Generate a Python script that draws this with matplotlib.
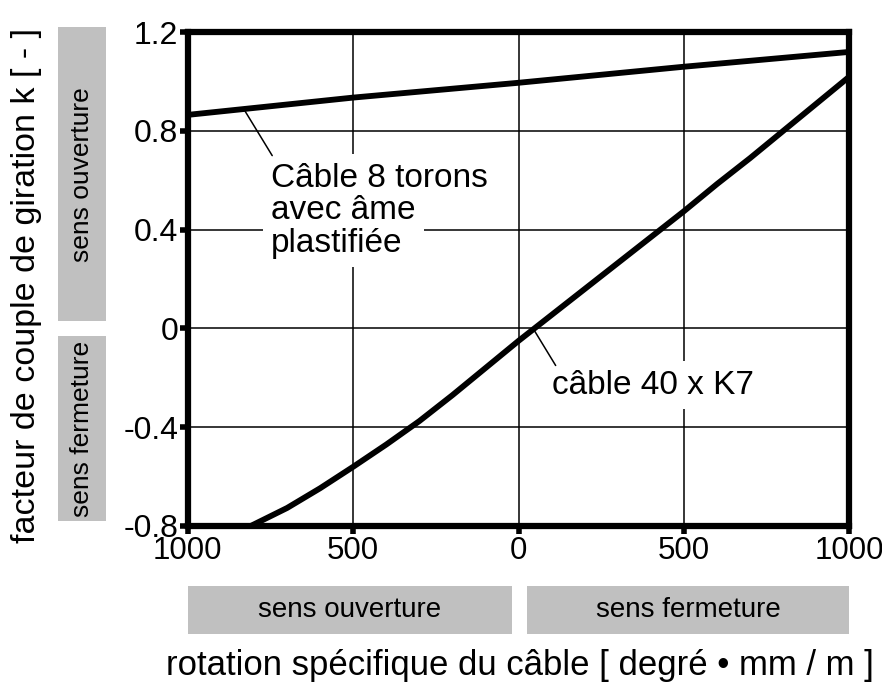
import numpy as np
import matplotlib
matplotlib.use("Agg")
import matplotlib.pyplot as plt
from matplotlib.patches import Rectangle
import matplotlib.transforms as mtransforms

plt.rcParams['font.family'] = ['Liberation Sans', 'DejaVu Sans']

# données
x_8torons = [-1000, -500, 0, 500, 1000]
k_8torons = [0.865, 0.935, 0.995, 1.06, 1.12]

x_40k7 = [-810, -700, -600, -500, -400, -300, -200, -100, 0, 100,
          200, 300, 400, 500, 600, 700, 800, 900, 1000]
k_40k7 = [-0.80, -0.727, -0.647, -0.56, -0.47, -0.375, -0.27, -0.16, -0.05, 0.055,
          0.16, 0.265, 0.37, 0.475, 0.585, 0.69, 0.80, 0.91, 1.02]

xticks = [-1000, -500, 0, 500, 1000]
xtick_labels = ['1000', '500', '0', '500', '1000']
yticks = [-0.8, -0.4, 0, 0.4, 0.8, 1.2]
ytick_labels = ['-0.8', '-0.4', '0', '0.4', '0.8', '1.2']

label_8torons = ['Câble 8 torons', 'avec âme', 'plastifiée']
label_40k7 = 'câble 40 x K7'

grey = '#c0c0c0'

fig = plt.figure(figsize=(8.82, 6.84), dpi=100)
ax = fig.add_axes([0.213, 0.231, 0.750, 0.722])

ax.plot(x_8torons, k_8torons, color='black', lw=4.2, solid_capstyle='butt', zorder=3)
ax.plot(x_40k7, k_40k7, color='black', lw=4.2, solid_capstyle='butt', zorder=3)

ax.set_xlim(-1000, 1000)
ax.set_ylim(-0.8, 1.2)
ax.set_xticks(xticks)
ax.set_xticklabels(xtick_labels)
ax.set_yticks(yticks)
ax.set_yticklabels(ytick_labels)
ax.tick_params(axis='both', width=4, length=6, direction='out', pad=1)
ax.tick_params(axis='x', labelsize=22.5)
ax.tick_params(axis='y', labelsize=23)
ax.grid(True, color='black', lw=1.1)
ax.set_axisbelow(True)
for s in ax.spines.values():
    s.set_linewidth(4.5)
    s.set_zorder(4)

# étiquettes des courbes
for i, txt in enumerate(label_8torons):
    ax.text(-749, 0.574 - i * 0.132, txt, fontsize=24, ha='left', va='baseline',
            bbox=dict(facecolor='white', edgecolor='none', pad=6), zorder=2)
x_lead = -831
ax.annotate('', xy=(x_lead, np.interp(x_lead, x_8torons, k_8torons)), xytext=(-745, 0.70),
            arrowprops=dict(arrowstyle='-', color='black', lw=1.1, shrinkA=0, shrinkB=0), zorder=2.5)

ax.text(101, -0.23, label_40k7, fontsize=24, ha='left', va='center',
        bbox=dict(facecolor='white', edgecolor='none', pad=6), zorder=2)
x_lead2 = 45
ax.annotate('', xy=(x_lead2, np.interp(x_lead2, x_40k7, k_40k7)), xytext=(112, -0.15),
            arrowprops=dict(arrowstyle='-', color='black', lw=1.1, shrinkA=0, shrinkB=0), zorder=2.5)

# cases grises sous l'axe x
tx = mtransforms.blended_transform_factory(ax.transData, ax.transAxes)
ax.add_patch(Rectangle((-1000, -0.219), 980, 0.098, transform=tx, facecolor=grey,
                       edgecolor='none', clip_on=False))
ax.add_patch(Rectangle((25, -0.219), 975, 0.098, transform=tx, facecolor=grey,
                       edgecolor='none', clip_on=False))
ax.text(-510, -0.170, 'sens ouverture', transform=tx, fontsize=20, ha='center', va='center')
ax.text(512, -0.170, 'sens fermeture', transform=tx, fontsize=20, ha='center', va='center')

# cases grises à gauche de l'axe y
ty = mtransforms.blended_transform_factory(ax.transAxes, ax.transData)
ax.add_patch(Rectangle((-0.197, 0.03), 0.073, 1.19, transform=ty, facecolor=grey,
                       edgecolor='none', clip_on=False))
ax.add_patch(Rectangle((-0.197, -0.78), 0.073, 0.75, transform=ty, facecolor=grey,
                       edgecolor='none', clip_on=False))
ax.text(-0.160, 0.625, 'sens ouverture', transform=ty, fontsize=19, rotation=90,
        ha='center', va='center')
ax.text(-0.160, -0.405, 'sens fermeture', transform=ty, fontsize=19, rotation=90,
        ha='center', va='center')

ax.set_xlabel('rotation spécifique du câble [ degré • mm / m ]', fontsize=25, va='center')
ax.xaxis.set_label_coords(0.5015, -0.283)
ax.set_ylabel('facteur de couple de giration k [ - ]', fontsize=24.5, va='center')
ax.yaxis.set_label_coords(-0.2436, 0.487)

fig.savefig('out.png', dpi=100)
